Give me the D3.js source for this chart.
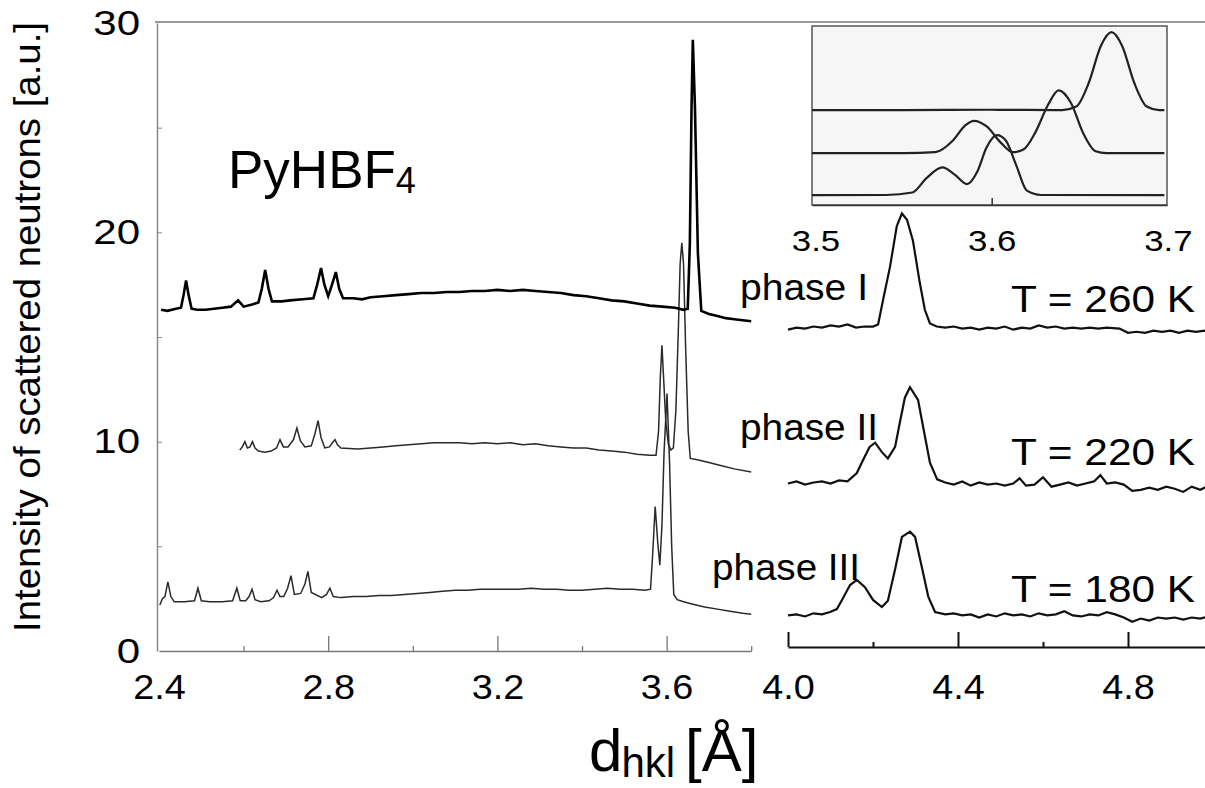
<!DOCTYPE html>
<html lang="en">
<head>
<meta charset="UTF-8">
<title>PyHBF4 neutron diffraction</title>
<script src="https://d3js.org/d3.v7.min.js"></script>
<style>
  body { margin: 0; background: #fff; }
  text { font-family: "Liberation Sans", Arial, sans-serif; fill: #000; }
</style>
</head>
<body>
<script>
// ---- data: [d (Å), intensity (a.u.)] ----
const phaseI_left = [[2.405,16.3],[2.42,16.25],[2.44,16.35],[2.452,16.4],[2.458,17.0],[2.464,17.7],[2.470,17.0],[2.477,16.35],[2.49,16.3],[2.51,16.3],[2.53,16.35],[2.55,16.4],[2.57,16.45],[2.587,16.75],[2.60,16.45],[2.62,16.55],[2.635,16.65],[2.643,17.3],[2.651,18.2],[2.659,17.3],[2.667,16.7],[2.69,16.7],[2.71,16.75],[2.74,16.8],[2.765,16.85],[2.774,17.5],[2.783,18.3],[2.791,17.5],[2.80,16.95],[2.809,17.5],[2.818,18.1],[2.826,17.3],[2.835,16.85],[2.86,16.85],[2.88,16.8],[2.90,16.9],[2.93,16.95],[2.96,17.0],[2.99,17.05],[3.02,17.1],[3.05,17.1],[3.08,17.15],[3.11,17.15],[3.14,17.2],[3.17,17.2],[3.20,17.25],[3.23,17.2],[3.26,17.25],[3.29,17.2],[3.32,17.15],[3.35,17.1],[3.38,17.0],[3.41,16.95],[3.44,16.85],[3.47,16.75],[3.50,16.7],[3.53,16.6],[3.56,16.5],[3.59,16.45],[3.62,16.4],[3.64,16.3],[3.650,16.35],[3.655,19.5],[3.659,26.0],[3.662,29.2],[3.667,26.0],[3.674,19.0],[3.682,16.25],[3.70,16.1],[3.72,16.0],[3.74,15.9],[3.76,15.85],[3.78,15.8],[3.80,15.75]];

const phaseII_left = [[2.591,9.6],[2.597,9.75],[2.603,10.0],[2.609,9.7],[2.615,9.75],[2.621,10.0],[2.627,9.7],[2.635,9.55],[2.65,9.5],[2.665,9.55],[2.678,9.7],[2.686,10.1],[2.694,9.75],[2.705,9.75],[2.718,10.1],[2.726,10.65],[2.734,10.05],[2.745,9.75],[2.76,9.8],[2.769,10.4],[2.776,11.0],[2.783,10.2],[2.792,9.7],[2.803,9.75],[2.81,9.95],[2.816,10.1],[2.822,9.85],[2.83,9.7],[2.87,9.65],[2.90,9.7],[2.93,9.75],[2.96,9.8],[2.99,9.85],[3.02,9.9],[3.05,9.95],[3.08,9.95],[3.11,9.95],[3.14,9.9],[3.17,9.95],[3.20,9.9],[3.23,9.95],[3.26,9.85],[3.29,9.9],[3.32,9.8],[3.35,9.75],[3.38,9.7],[3.41,9.7],[3.44,9.6],[3.47,9.55],[3.50,9.5],[3.53,9.4],[3.56,9.35],[3.575,9.35],[3.581,10.5],[3.585,13.0],[3.589,14.6],[3.593,13.0],[3.598,11.0],[3.604,9.9],[3.61,9.6],[3.616,9.7],[3.622,11.5],[3.628,15.5],[3.632,18.5],[3.636,19.5],[3.640,18.5],[3.645,14.5],[3.651,10.5],[3.656,9.2],[3.67,9.15],[3.70,9.0],[3.73,8.85],[3.76,8.7],[3.80,8.55]];

const phaseIII_left = [[2.402,2.2],[2.408,2.5],[2.414,2.6],[2.421,3.3],[2.428,2.6],[2.436,2.35],[2.46,2.35],[2.484,2.4],[2.492,3.0],[2.50,2.4],[2.52,2.35],[2.55,2.35],[2.574,2.4],[2.584,3.0],[2.592,2.4],[2.605,2.4],[2.613,2.6],[2.62,2.95],[2.627,2.45],[2.64,2.35],[2.66,2.4],[2.671,2.55],[2.679,2.9],[2.686,2.6],[2.695,2.6],[2.704,3.0],[2.712,3.6],[2.72,2.7],[2.735,2.75],[2.745,3.2],[2.752,3.8],[2.76,2.8],[2.785,2.55],[2.796,2.7],[2.804,3.0],[2.812,2.6],[2.83,2.55],[2.86,2.6],[2.89,2.6],[2.92,2.65],[2.95,2.65],[2.98,2.7],[3.01,2.75],[3.04,2.8],[3.07,2.85],[3.10,2.9],[3.13,2.9],[3.16,2.95],[3.19,2.95],[3.22,2.95],[3.25,2.95],[3.28,3.0],[3.31,2.95],[3.34,2.95],[3.37,2.9],[3.40,2.9],[3.43,2.95],[3.46,3.0],[3.49,2.95],[3.52,2.95],[3.55,2.9],[3.562,2.95],[3.567,4.6],[3.573,6.9],[3.579,5.2],[3.584,4.1],[3.589,6.0],[3.594,9.5],[3.601,12.3],[3.607,9.0],[3.612,5.0],[3.617,2.7],[3.625,2.45],[3.64,2.35],[3.66,2.25],[3.69,2.1],[3.72,2.0],[3.75,1.9],[3.78,1.8],[3.80,1.75]];

const phaseI_right = [[4.00,15.35],[4.02,15.45],[4.04,15.4],[4.06,15.5],[4.08,15.45],[4.10,15.55],[4.12,15.5],[4.14,15.6],[4.16,15.45],[4.18,15.5],[4.20,15.5],[4.212,15.6],[4.224,16.8],[4.24,18.35],[4.256,20.3],[4.268,20.9],[4.28,20.6],[4.294,19.6],[4.31,17.6],[4.322,16.3],[4.334,15.65],[4.35,15.5],[4.37,15.45],[4.39,15.5],[4.41,15.4],[4.43,15.45],[4.45,15.35],[4.47,15.45],[4.49,15.4],[4.51,15.5],[4.53,15.35],[4.55,15.45],[4.57,15.4],[4.59,15.55],[4.61,15.45],[4.63,15.5],[4.65,15.4],[4.67,15.45],[4.69,15.4],[4.71,15.45],[4.73,15.4],[4.75,15.45],[4.78,15.4],[4.80,15.2],[4.82,15.25],[4.84,15.2],[4.86,15.3],[4.88,15.25],[4.90,15.3],[4.92,15.2],[4.94,15.3],[4.96,15.25],[4.98,15.3],[5.00,15.2]];

const phaseII_right = [[4.00,8.0],[4.02,8.1],[4.04,7.95],[4.06,8.05],[4.08,8.1],[4.10,8.0],[4.12,8.15],[4.14,8.1],[4.162,8.5],[4.176,9.1],[4.192,9.75],[4.205,9.95],[4.221,9.5],[4.235,9.2],[4.252,9.75],[4.264,11.0],[4.275,12.1],[4.287,12.6],[4.306,12.0],[4.318,10.7],[4.334,9.0],[4.351,8.2],[4.37,8.05],[4.39,7.95],[4.41,8.1],[4.43,7.9],[4.45,8.05],[4.47,7.95],[4.49,8.0],[4.51,7.9],[4.53,8.0],[4.545,8.25],[4.56,7.9],[4.58,7.95],[4.60,8.3],[4.62,7.85],[4.64,7.95],[4.66,8.05],[4.68,7.9],[4.70,8.0],[4.72,8.1],[4.735,8.4],[4.75,8.0],[4.77,8.05],[4.79,7.95],[4.81,7.65],[4.83,7.7],[4.85,7.8],[4.87,7.7],[4.89,7.85],[4.91,7.75],[4.93,7.6],[4.95,7.85],[4.97,7.7],[4.99,7.9],[5.00,7.8]];

const phaseIII_right = [[4.00,1.7],[4.02,1.75],[4.04,1.65],[4.06,1.8],[4.08,1.75],[4.099,1.86],[4.115,2.0],[4.127,2.44],[4.146,3.15],[4.162,3.4],[4.181,3.05],[4.20,2.44],[4.221,2.1],[4.235,2.4],[4.252,3.9],[4.268,5.45],[4.287,5.7],[4.299,5.45],[4.315,4.0],[4.33,2.6],[4.346,1.86],[4.37,1.75],[4.39,1.8],[4.41,1.7],[4.43,1.75],[4.45,1.6],[4.47,1.75],[4.49,1.65],[4.51,1.8],[4.53,1.7],[4.55,1.75],[4.57,1.65],[4.59,1.8],[4.61,1.7],[4.63,1.75],[4.65,1.9],[4.67,1.7],[4.69,1.65],[4.71,1.75],[4.73,1.7],[4.75,1.85],[4.77,1.75],[4.79,1.6],[4.81,1.4],[4.83,1.55],[4.85,1.45],[4.87,1.6],[4.89,1.55],[4.91,1.6],[4.93,1.5],[4.95,1.6],[4.97,1.55],[4.99,1.65],[5.00,1.6]];

// inset (zoom on 3.5 - 3.7 Å), arbitrary offset units
const insetI = [[3.498,5.3],[3.55,5.3],[3.60,5.32],[3.64,5.3],[3.648,5.5],[3.655,6.8],[3.662,8.9],[3.668,9.66],[3.674,8.9],[3.681,6.8],[3.688,5.5],[3.695,5.3],[3.698,5.3]];
const insetII = [[3.498,2.9],[3.55,2.9],[3.568,2.95],[3.578,3.6],[3.585,4.45],[3.59,4.7],[3.597,4.4],[3.605,3.5],[3.612,2.95],[3.618,3.1],[3.625,4.1],[3.632,5.6],[3.638,6.4],[3.645,5.7],[3.652,4.0],[3.659,3.0],[3.665,2.9],[3.698,2.9]];
const insetIII = [[3.498,0.55],[3.54,0.56],[3.555,0.7],[3.563,1.5],[3.572,2.1],[3.579,1.7],[3.586,1.17],[3.592,1.9],[3.597,3.2],[3.603,3.9],[3.608,3.6],[3.614,2.2],[3.62,0.8],[3.628,0.56],[3.698,0.55]];

const yTicks = [0, 10, 20, 30];
const xTicksLeft = [2.4, 2.8, 3.2, 3.6];
const xTicksRight = [4.0, 4.4, 4.8];
const insetTicks = [3.5, 3.6, 3.7];
const phaseLabels = ["phase I", "phase II", "phase III"];
const tempLabels = ["T = 260 K", "T = 220 K", "T = 180 K"];

const W = 1205, H = 788;
const svg = d3.select("body").append("svg").attr("width", W).attr("height", H);
svg.append("rect").attr("width", W).attr("height", H).attr("fill", "#fff");

const xL = d3.scaleLinear().domain([2.4, 3.8]).range([159, 751.2]);
const xR = d3.scaleLinear().domain([4.0, 5.0]).range([788, 1213]);
const y = d3.scaleLinear().domain([0, 30]).range([651, 23]);
const xIn = d3.scaleLinear().domain([3.498, 3.6995]).range([812, 1167]);
const yIn = d3.scaleLinear().domain([0, 10]).range([205, 26]);

// the scanned figure's lettering is a bit wider than Arial
function widen(sel, s) {
  sel.attr("transform", function () {
    const x = +this.getAttribute("x") || 0;
    return `translate(${x * (1 - s)},0) scale(${s},1)`;
  });
}

// frame: top line and left axis
svg.append("line").attr("x1", 155).attr("x2", W).attr("y1", 22).attr("y2", 22)
  .attr("stroke", "#777").attr("stroke-width", 1.5);

const gy = svg.append("g").attr("transform", "translate(157,0)")
  .call(d3.axisRight(y).tickValues([5, 10, 15, 20, 25]).tickSize(5).tickSizeOuter(0).tickFormat(""));
gy.select(".domain").attr("stroke", "#888").attr("stroke-width", 1.5);
gy.selectAll(".tick line").attr("stroke", "#888");

const gyLab = svg.append("g").attr("transform", "translate(157,0)")
  .call(d3.axisLeft(y).tickValues(yTicks).tickSize(0).tickPadding(17));
gyLab.select(".domain").remove();
gyLab.selectAll("text").attr("font-size", 35).attr("font-family", "Liberation Sans, Arial").attr("fill", "#000")
  .call(widen, 1.2);

// bottom axes with inward ticks
function bottomAxis(scale, y0, major, minor, color, width) {
  const g1 = svg.append("g").attr("transform", `translate(0,${y0})`)
    .call(d3.axisTop(scale).tickValues(major).tickSize(15).tickSizeOuter(0).tickFormat(""));
  const g2 = svg.append("g").attr("transform", `translate(0,${y0})`)
    .call(d3.axisTop(scale).tickValues(minor).tickSize(5).tickSizeOuter(0).tickFormat(""));
  g2.select(".domain").remove();
  [g1, g2].forEach(g => {
    g.selectAll("path, line").attr("stroke", color).attr("stroke-width", width);
  });
}
bottomAxis(xL, 651, [2.8, 3.2, 3.6], [2.6, 3.0, 3.4, 3.8], "#777", 1.3);
bottomAxis(xR, 647, [4.0, 4.4, 4.8], [4.2, 4.6, 5.0], "#111", 2);

function tickLabels(scale, vals) {
  const g = svg.append("g").attr("transform", "translate(0,651)")
    .call(d3.axisBottom(scale).tickValues(vals).tickSize(0).tickPadding(23).tickFormat(d3.format(".1f")));
  g.select(".domain").remove();
  g.selectAll("text").attr("font-size", 35).attr("font-family", "Liberation Sans, Arial").attr("fill", "#000")
    .call(widen, 1.08);
}
tickLabels(xL, xTicksLeft);
tickLabels(xR, xTicksRight);

// traces
const lineL = d3.line().x(d => xL(d[0])).y(d => y(d[1]));
const lineR = d3.line().x(d => xR(d[0])).y(d => y(d[1]));
svg.append("path").datum(phaseIII_left).attr("d", lineL).attr("fill", "none").attr("stroke", "#2a2a2a").attr("stroke-width", 1.5);
svg.append("path").datum(phaseII_left).attr("d", lineL).attr("fill", "none").attr("stroke", "#2a2a2a").attr("stroke-width", 1.5);
svg.append("path").datum(phaseI_left).attr("d", lineL).attr("fill", "none").attr("stroke", "#000").attr("stroke-width", 2.6);
[phaseI_right, phaseII_right, phaseIII_right].forEach(s => {
  svg.append("path").datum(s).attr("d", lineR).attr("fill", "none").attr("stroke", "#111").attr("stroke-width", 2.2);
});

// inset
svg.append("rect").attr("x", xIn(3.498)).attr("y", yIn(10)).attr("width", xIn(3.6995) - xIn(3.498))
  .attr("height", yIn(0) - yIn(10)).attr("fill", "#f6f6f6").attr("stroke", "#555").attr("stroke-width", 1.5);
const gIn = svg.append("g").attr("transform", `translate(0,${yIn(0)})`)
  .call(d3.axisTop(xIn).tickValues([3.6]).tickSize(7).tickSizeOuter(0).tickFormat(""));
gIn.selectAll("path, line").attr("stroke", "#333").attr("stroke-width", 1.5);
const gInLab = svg.append("g").attr("transform", `translate(0,${yIn(0)})`)
  .call(d3.axisBottom(xIn).tickValues(insetTicks).tickSize(0).tickPadding(25).tickFormat(d3.format(".1f")));
gInLab.select(".domain").remove();
gInLab.selectAll("text").attr("font-size", 29).attr("font-family", "Liberation Sans, Arial").attr("fill", "#000")
  .call(widen, 1.2);

const lineIn = d3.line().x(d => xIn(d[0])).y(d => yIn(d[1])).curve(d3.curveMonotoneX);
[insetI, insetII, insetIII].forEach(s => {
  svg.append("path").datum(s).attr("d", lineIn).attr("fill", "none").attr("stroke", "#222").attr("stroke-width", 2.2);
});

// labels
const title = svg.append("text").attr("x", 228).attr("y", 188).attr("font-size", 53);
title.append("tspan").text("PyHBF");
title.append("tspan").attr("font-size", 36).attr("dy", 5).text("4");

const phasePos = [[740, 300], [740, 440], [712, 580]];
const phaseLen = [128, 138, 148];
phaseLabels.forEach((t, i) => {
  svg.append("text").attr("x", phasePos[i][0]).attr("y", phasePos[i][1]).attr("font-size", 37)
    .attr("textLength", phaseLen[i]).attr("lengthAdjust", "spacingAndGlyphs").text(t);
});
const tempY = [312, 465, 602];
tempLabels.forEach((t, i) => {
  svg.append("text").attr("x", 1195).attr("y", tempY[i]).attr("text-anchor", "end")
    .attr("font-size", 36).attr("textLength", 184).attr("lengthAdjust", "spacingAndGlyphs").text(t);
});

svg.append("text").attr("transform", "translate(40,327) rotate(-90)").attr("text-anchor", "middle")
  .attr("font-size", 37).attr("textLength", 610).attr("lengthAdjust", "spacingAndGlyphs")
  .text("Intensity of scattered neutrons [a.u.]");

const xt = svg.append("text").attr("x", 589).attr("y", 771).attr("font-size", 60);
xt.append("tspan").text("d");
xt.append("tspan").attr("font-size", 42).attr("dy", 6).attr("dx", -1).text("hkl");
xt.append("tspan").attr("dy", -6).attr("dx", 10).text("[Å]");
</script>
</body>
</html>
